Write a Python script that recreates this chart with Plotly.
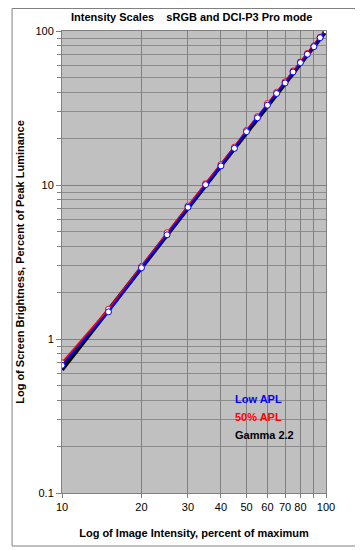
import plotly.graph_objects as go

intensity = [10, 15, 20, 25, 30, 35, 40, 45, 50, 55, 60, 65, 70, 75, 80, 85, 90, 95, 100]
low_apl = [0.675, 1.50, 2.90, 4.75, 7.17, 10.05, 13.3, 17.3, 22.2, 27.3, 33.0, 39.3, 46.0, 54.2, 62.3, 70.7, 79.1, 90.5, 100]
apl_50 = [0.70, 1.56, 2.96, 4.90, 7.30, 10.2, 13.6, 17.6, 22.6, 27.8, 33.8, 40.0, 46.8, 55.0, 63.0, 71.5, 80.0, 91.0, 100]
gamma_22 = [0.631, 1.54, 2.90, 4.74, 7.07, 9.93, 13.32, 17.26, 21.76, 26.84, 32.5, 38.76, 45.6, 53.1, 61.2, 69.9, 79.3, 89.3, 100]

x_ticks = [10, 20, 30, 40, 50, 60, 70, 80, 90, 100]
x_ticktext = ["10", "20", "30", "40", "50", "60", "70", "80", "", "100"]
y_ticks = [0.1, 1, 10, 100]
y_ticktext = ["0.1", "1", "10", "100"]
y_minor = [m * d for d in (0.1, 1, 10) for m in range(2, 10)]

OFF = 8  # page body margin
W, H = 363 - OFF, 550 - OFF
L, R, T, B = 59 - OFF, 37, 31 - OFF, 57
pw, ph = W - L - R, H - T - B

def px(x):
    return (x - OFF - L) / pw

def py(y):
    return (H - B - (y - OFF)) / ph

fig = go.Figure()
fig.add_trace(go.Scatter(x=intensity, y=gamma_22, mode="lines",
                         line=dict(color="black", width=4), showlegend=False))
fig.add_trace(go.Scatter(x=intensity, y=apl_50, mode="lines+markers",
                         line=dict(color="#FF0000", width=2),
                         marker=dict(symbol="circle", size=6, color="white",
                                     line=dict(color="#FF0000", width=1)),
                         showlegend=False))
fig.add_trace(go.Scatter(x=intensity, y=low_apl, mode="lines+markers",
                         line=dict(color="#0000FF", width=2),
                         marker=dict(symbol="circle", size=6, color="white",
                                     line=dict(color="#0000FF", width=1)),
                         showlegend=False))

font = dict(family="Liberation Sans, Arial, sans-serif", size=11, color="black")

fig.update_xaxes(type="log", range=[1, 2], tickvals=x_ticks, ticktext=x_ticktext,
                 showgrid=True, gridcolor="#808080", gridwidth=1,
                 ticks="outside", ticklen=4, tickcolor="#808080",
                 showline=True, linecolor="#808080", mirror=True,
                 tickfont=font, zeroline=False,
                 title=dict(text="<b>Log of Image Intensity, percent of maximum</b>",
                            font=font, standoff=17))
fig.update_yaxes(type="log", range=[-1, 2], tickvals=y_ticks, ticktext=y_ticktext,
                 showgrid=True, gridcolor="#808080", gridwidth=1,
                 ticks="outside", ticklen=5, tickcolor="#808080",
                 showline=True, linecolor="#808080", mirror=True,
                 minor=dict(tickvals=y_minor, showgrid=True, gridcolor="#8c8c8c",
                            ticks="outside", ticklen=4, tickcolor="#808080"),
                 tickfont=font, zeroline=False,
                 title=dict(text="<b>Log of Screen Brightness, Percent of Peak Luminance</b>",
                            font=font, standoff=8))

annotations = [
    dict(text="<b>Intensity Scales    sRGB and DCI-P3 Pro mode</b>", x=px(190), y=py(17),
         xref="paper", yref="paper", showarrow=False, font=font, xanchor="center", yanchor="middle"),
    dict(text="<b>Low APL</b>", x=px(232), y=py(399), xref="paper", yref="paper",
         showarrow=False, font=dict(family=font["family"], size=11, color="#0000FF"),
         xanchor="left", yanchor="middle"),
    dict(text="<b>50% APL</b>", x=px(232), y=py(417), xref="paper", yref="paper",
         showarrow=False, font=dict(family=font["family"], size=11, color="#FF0000"),
         xanchor="left", yanchor="middle"),
    dict(text="<b>Gamma 2.2</b>", x=px(232), y=py(435), xref="paper", yref="paper",
         showarrow=False, font=dict(family=font["family"], size=11, color="black"),
         xanchor="left", yanchor="middle"),
]

shapes = [dict(type="rect", xref="paper", yref="paper",
               x0=px(OFF + 0.5), x1=px(356), y0=py(546), y1=py(OFF + 0.5),
               line=dict(color="#808080", width=1), layer="below")]

fig.update_layout(width=W, height=H, margin=dict(l=L, r=R, t=T, b=B),
                  paper_bgcolor="white", plot_bgcolor="#C0C0C0",
                  annotations=annotations, shapes=shapes, showlegend=False,
                  font=font)

fig.write_html("out.html")
